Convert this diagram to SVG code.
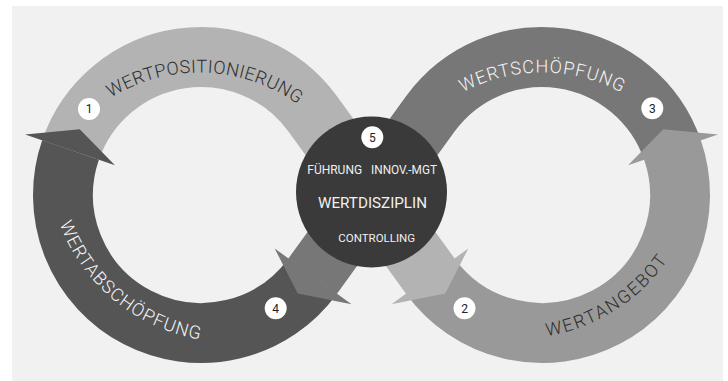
<svg xmlns="http://www.w3.org/2000/svg" width="728" height="381" viewBox="0 0 728 381">
<defs>
<style>
.band{fill:none;stroke-width:60;stroke-linecap:butt;stroke-linejoin:miter}
.lbl{font-family:Roboto,"Open Sans","Liberation Sans",sans-serif;font-size:18px;font-weight:300}
.dk{fill:#2e2e2e}
.lt{fill:#f4f4f4}
.num circle{fill:#ffffff}
.num text{font-family:Roboto,"Open Sans","Liberation Sans",sans-serif;font-size:12px;fill:#222;text-anchor:middle}
.ctr{font-family:Roboto,"Open Sans","Liberation Sans",sans-serif;fill:#f0f0f0;text-anchor:middle}
</style>
<path id="tp1" d="M74.92,127.92 A167.5,167.5 0 0 1 331.39,136.88"/>
<path id="tp3" d="M413.69,132.33 A167.5,167.5 0 0 1 670.31,132.33"/>
<path id="tp4" d="M48.11,161.88 A181.5,181.5 0 0 0 262.68,338.76"/>
<path id="tp2" d="M462.67,329.86 A181.5,181.5 0 0 0 697.84,181.48"/>
</defs>
<rect x="12" y="6" width="711" height="375" fill="#f1f1f1"/>
<g id="connectors">
<path class="band" stroke="#b3b3b3" d="M70.52,150.07 A138,138 0 0 1 312.70,113.96 L430.30,276.04"/>
<path class="band" stroke="#999999" d="M430.30,276.04 A138,138 0 0 0 672.48,150.07"/>
<path class="band" stroke="#777777" d="M672.48,150.07 A138,138 0 0 0 430.30,113.96 L312.70,276.04"/>
<path class="band" stroke="#555555" d="M312.70,276.04 A138,138 0 0 1 70.52,150.07"/>
<polygon fill="#b3b3b3" points="391.45,304.22 445.27,293.43 468.34,248.44"/>
<polygon fill="#999999" points="717.87,134.44 663.28,129.15 628.04,165.37"/>
<polygon fill="#777777" points="351.55,304.22 297.73,293.43 274.66,248.44"/>
<polygon fill="#555555" points="25.13,134.44 79.72,129.15 114.96,165.37"/>
</g>
<g id="node-wertpositionierung">
<text class="lbl dk"><textPath href="#tp1" startOffset="50%" text-anchor="middle" textLength="198" lengthAdjust="spacing">WERTPOSITIONIERUNG</textPath></text>
<g class="num"><circle cx="89" cy="109" r="11"/><text x="89" y="113.3">1</text></g>
</g>
<g id="node-wertangebot">
<text class="lbl dk"><textPath href="#tp2" startOffset="50%" text-anchor="middle" textLength="146" lengthAdjust="spacing">WERTANGEBOT</textPath></text>
<g class="num"><circle cx="464.5" cy="308.3" r="11"/><text x="464.5" y="312.6">2</text></g>
</g>
<g id="node-wertschoepfung">
<text class="lbl lt"><textPath href="#tp3" startOffset="50%" text-anchor="middle" textLength="165" lengthAdjust="spacing">WERTSCHÖPFUNG</textPath></text>
<g class="num"><circle cx="652.3" cy="108.3" r="11"/><text x="652.3" y="112.6">3</text></g>
</g>
<g id="node-wertabschoepfung">
<text class="lbl lt"><textPath href="#tp4" startOffset="50%" text-anchor="middle" textLength="190" lengthAdjust="spacing">WERTABSCHÖPFUNG</textPath></text>
<g class="num"><circle cx="275.7" cy="308.3" r="11"/><text x="275.7" y="312.6">4</text></g>
</g>
<g id="node-wertdisziplin">
<circle cx="371.5" cy="192" r="75.5" fill="#3a3a3a"/>
<g class="num"><circle cx="372.3" cy="137.3" r="11"/><text x="372.3" y="141.6">5</text></g>
<text class="ctr" x="334.7" y="174" font-size="12">FÜHRUNG</text>
<text class="ctr" x="404" y="174" font-size="12" textLength="66" lengthAdjust="spacingAndGlyphs">INNOV.-MGT</text>
<text class="ctr" x="372.5" y="207.7" font-size="15.2">WERTDISZIPLIN</text>
<text class="ctr" x="376.7" y="241.7" font-size="11.5">CONTROLLING</text>
</g>
</svg>
